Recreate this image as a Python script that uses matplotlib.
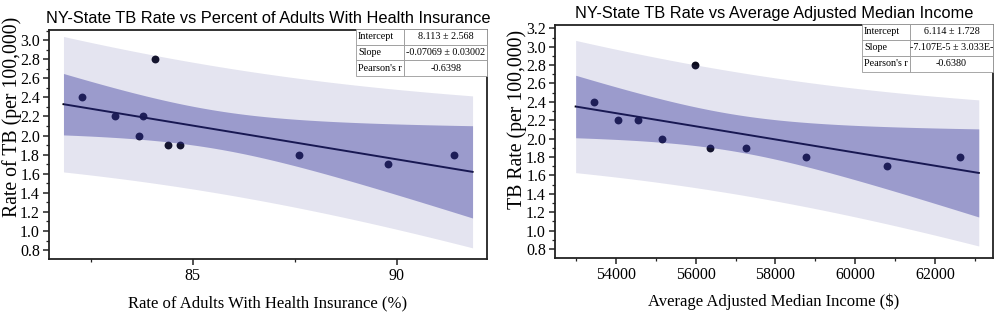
import numpy as np
import matplotlib
matplotlib.use("Agg")
import matplotlib.pyplot as plt
from matplotlib.ticker import MultipleLocator, FormatStrFormatter

# data
insured_pct = [82.29, 83.10, 83.69, 83.79, 84.08, 84.39, 84.70, 87.61, 89.79, 91.40]
tb_rate_a = [2.4, 2.2, 2.0, 2.2, 2.8, 1.9, 1.9, 1.8, 1.7, 1.8]

income = [53448, 54042, 54559, 55144, 55980, 56356, 57251, 58772, 60803, 62643]
tb_rate_b = [2.4, 2.2, 2.2, 2.0, 2.8, 1.9, 1.9, 1.8, 1.7, 1.8]

table_a = [["Intercept", "8.113 ± 2.568"],
           ["Slope", "-0.07069 ± 0.03002"],
           ["Pearson's r", "-0.6398"]]
table_b = [["Intercept", "6.114 ± 1.728"],
           ["Slope", "-7.107E-5 ± 3.033E-"],
           ["Pearson's r", "-0.6380"]]

T95 = 2.306  # t(0.975, df=8)

serif = "Liberation Serif"
sans = "Liberation Sans"

PRED_COL = (75/255, 75/255, 155/255)
CONF_COL = (46/255, 46/255, 152/255)


def draw_panel(ax, x, y, title, xlabel, ylabel, tbl, xlim, ylim, xmaj, xmin_,
               ytop, ylab_pos):
    x = np.asarray(x, float)
    y = np.asarray(y, float)
    n = len(x)
    b, a = np.polyfit(x, y, 1)
    res = y - (a + b * x)
    s = np.sqrt(np.sum(res ** 2) / (n - 2))
    sxx = np.sum((x - x.mean()) ** 2)
    span = x.max() - x.min()
    xs = np.linspace(x.min() - 0.05 * span, x.max() + 0.05 * span, 200)
    yf = a + b * xs
    conf = T95 * s * np.sqrt(1 / n + (xs - x.mean()) ** 2 / sxx)
    pred = T95 * s * np.sqrt(1 + 1 / n + (xs - x.mean()) ** 2 / sxx)

    ax.scatter(x, y, s=32, color="#0b0b1c", zorder=1, linewidths=0)
    ax.plot(xs, yf, color="#000010", lw=1.4, zorder=1)
    ax.fill_between(xs, yf - pred, yf + pred, color=PRED_COL, alpha=0.15,
                    lw=0, zorder=2)
    ax.fill_between(xs, yf - conf, yf + conf, color=CONF_COL, alpha=0.4,
                    lw=0, zorder=3)

    ax.set_xlim(*xlim)
    ax.set_ylim(*ylim)
    ax.xaxis.set_major_locator(MultipleLocator(xmaj))
    ax.xaxis.set_minor_locator(MultipleLocator(xmin_))
    ax.set_yticks(np.round(np.arange(0.8, ytop + 0.01, 0.2), 1))
    ax.yaxis.set_minor_locator(MultipleLocator(0.1))
    ax.yaxis.set_major_formatter(FormatStrFormatter("%.1f"))
    ax.tick_params(which="major", direction="out", length=4, width=1.1,
                   labelsize=11.5, color="#222222", pad=2.5)
    ax.tick_params(which="minor", direction="out", length=2.5, width=0.9,
                   color="#222222")
    for lab in ax.get_xticklabels() + ax.get_yticklabels():
        lab.set_fontfamily(serif)
    for sp in ax.spines.values():
        sp.set_linewidth(1.3)
        sp.set_color("#222222")

    ax.set_xlabel(xlabel, fontfamily=serif, fontsize=12, labelpad=8)
    ax.set_ylabel(ylabel, fontfamily=serif, fontsize=14.2)
    ax.yaxis.set_label_coords(*ylab_pos)
    ax.set_title(title, fontfamily=sans, fontsize=11.8, pad=5)

    t = ax.table(cellText=tbl, colWidths=[0.37, 0.63], cellLoc="center",
                 bbox=[0.70, 0.80, 0.30, 0.205], zorder=5)
    t.auto_set_font_size(False)
    for (r, c), cell in t.get_celld().items():
        cell.set_edgecolor("#999999")
        cell.set_linewidth(0.6)
        cell.set_facecolor("white")
        txt = cell.get_text()
        txt.set_fontfamily(serif)
        txt.set_fontsize(7.3)
        if c == 0:
            txt.set_ha("left")
            cell.PAD = 0.05


fig = plt.figure(figsize=(9.98, 3.23), dpi=100)
ax1 = fig.add_axes([0.0491, 0.198, 0.4389, 0.709])
ax2 = fig.add_axes([0.5561, 0.2022, 0.4389, 0.7204])

draw_panel(ax1, insured_pct, tb_rate_a,
           "NY-State TB Rate vs Percent of Adults With Health Insurance",
           "Rate of Adults With Health Insurance (%)", "Rate of TB (per 100,000)",
           table_a, (81.48, 92.21), (0.706, 3.105), 5, 2.5, 3.0, (-0.062, 0.62))
draw_panel(ax2, income, tb_rate_b,
           "NY-State TB Rate vs Average Adjusted Median Income",
           "Average Adjusted Median Income ($)", "TB Rate (per 100,000)",
           table_b, (52470, 63460), (0.705, 3.236), 2000, 1000, 3.2, (-0.064, 0.592))

fig.savefig("out.png", dpi=100)
